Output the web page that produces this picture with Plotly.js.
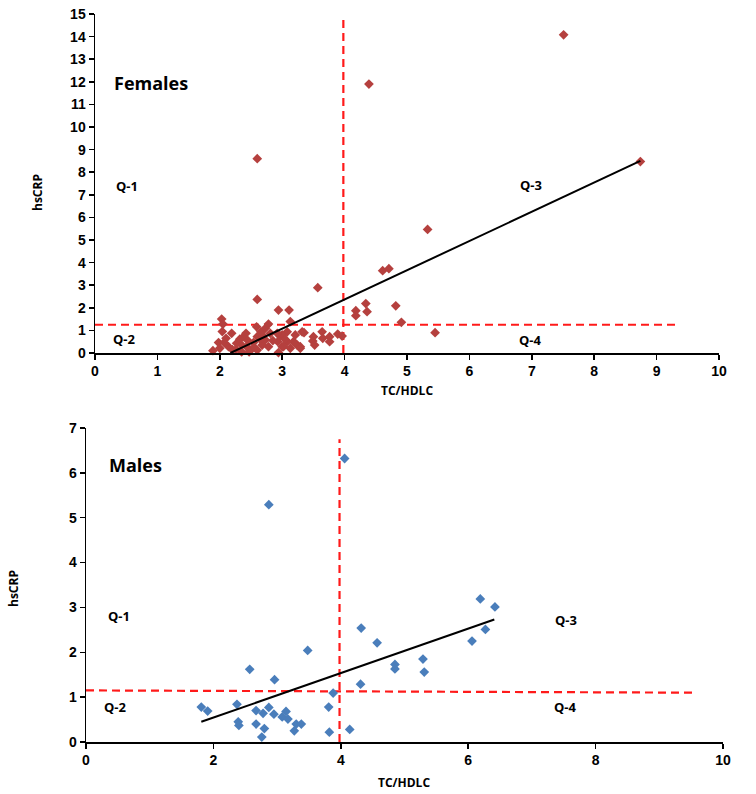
<!DOCTYPE html>
<html>
<head>
<meta charset="utf-8">
<script src="https://cdn.plot.ly/plotly-3.0.1.min.js"></script>
<style>html,body{margin:0;padding:0;background:#fff;}#chart{width:756px;height:794px;}</style>
</head>
<body>
<div id="chart"></div>
<script>
// ---- Females (TC/HDLC vs hsCRP) ----
const femaleX = [1.89,2.03,2.05,2.04,2.19,2.10,1.98,2.07,2.00,2.14,2.27,2.32,2.38,2.42,2.26,2.43,2.49,2.60,2.54,2.60,2.66,2.59,2.73,2.78,2.81,2.73,2.68,2.78,2.94,2.60,2.97,2.93,3.00,3.11,3.13,3.08,3.00,3.21,3.32,3.35,3.18,3.08,3.02,3.13,3.29,3.24,3.50,3.49,3.52,3.64,3.65,3.76,3.76,3.89,3.96,3.57,2.60,4.18,4.18,4.34,4.36,4.39,4.61,4.71,4.82,4.91,5.45,5.33,7.51,8.74,2.35,2.45,2.55,2.65,2.85,2.94,2.20,2.68,2.92,3.05,2.35,2.47,3.29,3.21];
const femaleY = [0.10,1.50,1.28,0.95,0.87,0.65,0.46,0.46,0.21,0.28,0.43,0.61,0.72,0.87,0.16,0.28,0.13,0.13,0.46,0.72,0.94,1.16,1.09,1.28,0.87,0.58,0.35,0.28,1.90,2.37,0.75,0.50,0.28,1.90,1.39,0.94,0.80,0.80,0.94,0.90,0.50,0.50,0.28,0.21,0.21,0.35,0.72,0.53,0.35,0.94,0.65,0.72,0.50,0.84,0.75,2.89,8.60,1.87,1.65,2.19,1.83,11.90,3.64,3.73,2.09,1.36,0.90,5.47,14.08,8.47,0.35,0.55,0.25,0.60,0.55,0.02,0.15,0.80,0.87,0.60,0.05,0.05,0.28,0.43];
const femaleTrendX = [2.17, 8.74];
const femaleTrendY = [0, 8.5];
const femaleCutX = [3.98, 3.98];
const femaleCutXY = [0, 14.9];
const femaleCutYX = [0, 9.31];
const femaleCutY = [1.25, 1.25];

// ---- Males ----
const maleX = [2.87,4.06,3.48,2.57,2.96,4.32,4.57,4.31,3.88,3.81,3.82,4.14,1.81,1.91,2.37,2.39,2.40,2.67,2.67,2.78,2.80,2.76,2.87,2.95,3.08,3.14,3.17,3.27,3.30,3.38,6.19,6.42,6.27,6.06,5.29,5.31,4.85,4.85];
const maleY = [5.29,6.32,2.04,1.62,1.39,2.54,2.21,1.29,1.09,0.78,0.22,0.28,0.78,0.69,0.84,0.45,0.37,0.70,0.40,0.64,0.30,0.11,0.77,0.62,0.56,0.68,0.51,0.25,0.40,0.40,3.19,3.01,2.51,2.25,1.85,1.56,1.73,1.63];
const maleTrendX = [1.81, 6.41];
const maleTrendY = [0.45, 2.73];
const maleCutX = [3.98, 3.98];
const maleCutXY = [0, 6.75];
const maleCutYX = [0, 9.53];
const maleCutY = [1.15, 1.10];

// ---- ticks ----
const femaleXTicks = [0,1,2,3,4,5,6,7,8,9,10];
const femaleYTicks = [0,1,2,3,4,5,6,7,8,9,10,11,12,13,14,15];
const maleXTicks = [0,2,4,6,8,10];
const maleYTicks = [0,1,2,3,4,5,6,7];

// ---- labels ----
const quadLabels = ['Q-1','Q-2','Q-3','Q-4'];
const femaleQuadX = [0.51, 0.48, 6.98, 6.98];
const femaleQuadY = [7.39, 0.62, 7.43, 0.58];
const maleQuadX = [0.52, 0.46, 7.53, 7.53];
const maleQuadY = [2.81, 0.78, 2.72, 0.78];

const fontFam = '"Open Sans", Lato, sans-serif';
const tickFam = '"Liberation Sans", Arial, sans-serif';
const red = '#ff1a1a';
const dash = '8px,5px';
const bold = v => '<b>' + v + '</b>';

const traces = [
  {x: femaleCutX, y: femaleCutXY, mode:'lines', line:{color:red, width:2.2, dash:dash}, xaxis:'x', yaxis:'y', hoverinfo:'skip'},
  {x: femaleCutYX, y: femaleCutY, mode:'lines', line:{color:red, width:2.2, dash:dash}, xaxis:'x', yaxis:'y', hoverinfo:'skip'},
  {x: femaleX, y: femaleY, mode:'markers', marker:{symbol:'diamond', size:7.5, color:'#b5403e'}, xaxis:'x', yaxis:'y', cliponaxis:false},
  {x: femaleTrendX, y: femaleTrendY, mode:'lines', line:{color:'#000', width:2}, xaxis:'x', yaxis:'y'},
  {x: maleCutX, y: maleCutXY, mode:'lines', line:{color:red, width:2.2, dash:dash}, xaxis:'x2', yaxis:'y2', hoverinfo:'skip'},
  {x: maleCutYX, y: maleCutY, mode:'lines', line:{color:red, width:2.2, dash:dash}, xaxis:'x2', yaxis:'y2', hoverinfo:'skip'},
  {x: maleX, y: maleY, mode:'markers', marker:{symbol:'diamond', size:7.5, color:'#4a7ebb'}, xaxis:'x2', yaxis:'y2', cliponaxis:false},
  {x: maleTrendX, y: maleTrendY, mode:'lines', line:{color:'#000', width:2}, xaxis:'x2', yaxis:'y2'}
];

const axisBase = {
  showgrid:false, zeroline:false, showline:true, linecolor:'#000', linewidth:1.5,
  ticks:'outside', ticklen:5, tickwidth:1.5, tickcolor:'#000', tickmode:'array',
  tickfont:{family:tickFam, size:14, color:'#000'}, fixedrange:true
};

const ann = [];
function label(text, x, y, xr, yr, size){
  ann.push({text:bold(text), x:x, y:y, xref:xr, yref:yr, showarrow:false, font:{family:fontFam, size:size, color:'#000'}, xanchor:'center', yanchor:'middle'});
}
quadLabels.forEach((t,i)=>{ label(t, femaleQuadX[i], femaleQuadY[i], 'x', 'y', 13); });
quadLabels.forEach((t,i)=>{ label(t, maleQuadX[i], maleQuadY[i], 'x2', 'y2', 13); });
label('Females', 0.9, 11.95, 'x', 'y', 18);
label('Males', 0.77, 6.18, 'x2', 'y2', 18);
function paper(text, px, py, angle){
  ann.push({text:bold(text), x:px/756, y:1-py/794, xref:'paper', yref:'paper', showarrow:false, textangle:angle||0, font:{family:fontFam, size:12, color:'#000'}, xanchor:'center', yanchor:'middle'});
}
paper('hsCRP', 38, 193, -90);
paper('hsCRP', 13, 589, -90);
paper('TC/HDLC', 407, 390);
paper('TC/HDLC', 404, 782);

const layout = {
  width:756, height:794, margin:{l:0,r:0,t:0,b:0}, paper_bgcolor:'#fff', plot_bgcolor:'#fff',
  showlegend:false,
  xaxis: Object.assign({}, axisBase, {domain:[95/756, 719/756], range:[0,10], tickvals:femaleXTicks, ticktext:femaleXTicks.map(bold), anchor:'y'}),
  yaxis: Object.assign({}, axisBase, {domain:[1-353/794, 1-14/794], range:[0,15], tickvals:femaleYTicks, ticktext:femaleYTicks.map(bold), anchor:'x'}),
  xaxis2: Object.assign({}, axisBase, {domain:[86/756, 723/756], range:[0,10], tickvals:maleXTicks, ticktext:maleXTicks.map(bold), anchor:'y2'}),
  yaxis2: Object.assign({}, axisBase, {domain:[1-742/794, 1-428/794], range:[0,7], tickvals:maleYTicks, ticktext:maleYTicks.map(bold), anchor:'x2'}),
  annotations: ann
};

Plotly.newPlot('chart', traces, layout, {displayModeBar:false, staticPlot:true});
</script>
</body>
</html>
